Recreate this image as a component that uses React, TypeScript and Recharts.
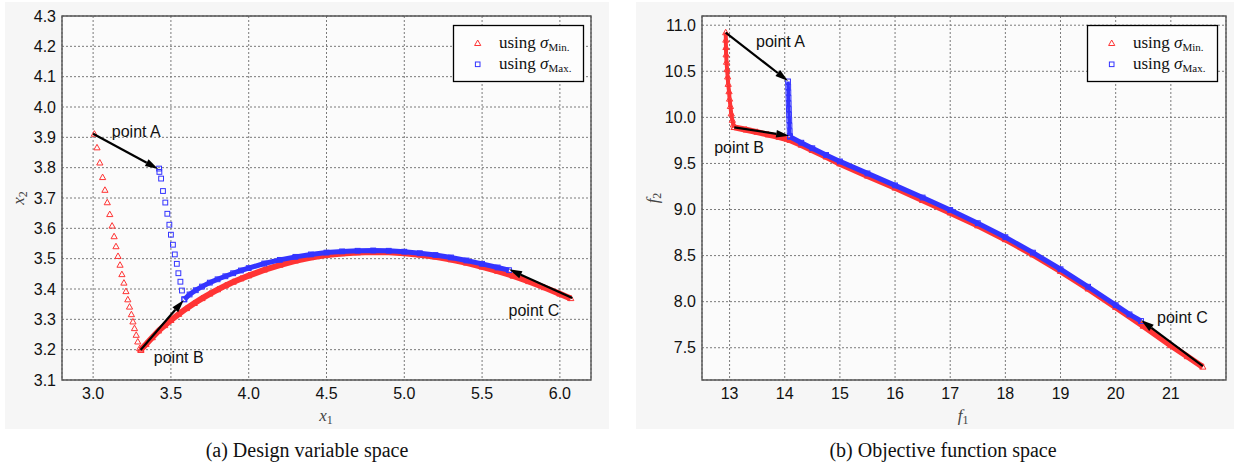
import React from 'react';
import { ScatterChart, Scatter, XAxis, YAxis, CartesianGrid, ReferenceArea } from 'recharts';

type Pt = [number, number];

const RED = '#ff3434';
const BLUE = '#3434ff';
const SANS = 'Liberation Sans, Arial, sans-serif';
const SERIF = 'Liberation Serif, Times New Roman, serif';

// (a) design variable space: [x1, x2]
const designXTicks = [3.0, 3.5, 4.0, 4.5, 5.0, 5.5, 6.0];
const designYTicks = [3.1, 3.2, 3.3, 3.4, 3.5, 3.6, 3.7, 3.8, 3.9, 4.0, 4.1, 4.2, 4.3];
const designMinDrop: Pt[] = [
  [3.008, 3.911], [3.025, 3.866], [3.043, 3.816], [3.061, 3.768], [3.076, 3.726], [3.091, 3.685],
  [3.107, 3.646], [3.122, 3.608], [3.135, 3.573], [3.147, 3.54], [3.16, 3.508], [3.173, 3.479],
  [3.185, 3.448], [3.198, 3.42], [3.211, 3.392], [3.223, 3.365], [3.234, 3.341], [3.246, 3.316],
  [3.256, 3.292], [3.266, 3.27], [3.277, 3.248], [3.287, 3.226], [3.299, 3.204], [3.307, 3.198],
];
const designMinArc: Pt[] = [
  [3.307, 3.2], [3.34, 3.218], [3.38, 3.24], [3.42, 3.262], [3.46, 3.28], [3.5, 3.297], [3.55, 3.317],
  [3.6, 3.336], [3.65, 3.353], [3.7, 3.369], [3.75, 3.384], [3.8, 3.398], [3.85, 3.411], [3.9, 3.423],
  [3.95, 3.434], [4.0, 3.444], [4.1, 3.463], [4.2, 3.479], [4.3, 3.493], [4.4, 3.504], [4.5, 3.512],
  [4.6, 3.517], [4.7, 3.52], [4.8, 3.522], [4.9, 3.521], [5.0, 3.518], [5.1, 3.513], [5.2, 3.506],
  [5.3, 3.497], [5.4, 3.486], [5.5, 3.473], [5.6, 3.459], [5.7, 3.443], [5.8, 3.425], [5.9, 3.405],
  [6.0, 3.384], [6.07, 3.369],
];
const designMaxDrop: Pt[] = [
  [3.424, 3.797], [3.426, 3.786], [3.437, 3.764], [3.449, 3.723], [3.464, 3.685], [3.477, 3.648],
  [3.49, 3.612], [3.5, 3.579], [3.513, 3.546], [3.525, 3.514], [3.538, 3.483], [3.548, 3.452],
  [3.561, 3.424], [3.571, 3.395], [3.586, 3.366],
];
const designMaxArc: Pt[] = [
  [3.586, 3.366], [3.62, 3.382], [3.66, 3.396], [3.7, 3.408], [3.75, 3.421], [3.8, 3.432], [3.85, 3.442],
  [3.9, 3.452], [3.95, 3.461], [4.0, 3.469], [4.1, 3.484], [4.2, 3.496], [4.3, 3.506], [4.4, 3.514],
  [4.5, 3.52], [4.6, 3.524], [4.7, 3.526], [4.8, 3.527], [4.9, 3.526], [5.0, 3.523], [5.1, 3.518],
  [5.2, 3.512], [5.3, 3.504], [5.4, 3.494], [5.5, 3.483], [5.6, 3.471], [5.673, 3.462],
];
const designArrows: [Pt, Pt][] = [
  [[3.0, 3.912], [3.418, 3.796]],
  [[3.305, 3.199], [3.583, 3.364]],
  [[6.08, 3.37], [5.673, 3.465]],
];
const designNotes = [
  { x: 3.12, y: 3.919, text: 'point A' },
  { x: 3.39, y: 3.175, text: 'point B' },
  { x: 5.67, y: 3.331, text: 'point C' },
];

// (b) objective function space: [f1, f2]
const objXTicks = [13, 14, 15, 16, 17, 18, 19, 20, 21];
const objYTicks = [7.5, 8.0, 8.5, 9.0, 9.5, 10.0, 10.5, 11.0];
const objMinDrop: Pt[] = [
  [12.93, 10.92], [12.932, 10.84], [12.934, 10.76], [12.937, 10.68], [12.945, 10.6], [12.955, 10.52],
  [12.965, 10.44], [12.975, 10.36], [12.99, 10.28], [13.0, 10.2], [13.015, 10.12], [13.03, 10.04],
  [13.05, 9.97], [13.07, 9.92], [13.085, 9.892],
];
const objMinArc: Pt[] = [
  [13.085, 9.892], [13.3, 9.865], [13.5, 9.84], [13.7, 9.812], [13.9, 9.785], [14.1, 9.752], [14.3, 9.7],
  [14.5, 9.643], [14.75, 9.572], [15.0, 9.497], [15.5, 9.365], [16.0, 9.235], [16.5, 9.1], [17.0, 8.965],
  [17.5, 8.825], [18.0, 8.675], [18.5, 8.51], [19.0, 8.33], [19.5, 8.14], [20.0, 7.94], [20.5, 7.735],
  [21.0, 7.525], [21.3, 7.405], [21.58, 7.292],
];
const objMaxDrop: Pt[] = [
  [14.06, 10.39], [14.063, 10.33], [14.066, 10.27], [14.069, 10.21], [14.072, 10.15], [14.075, 10.09],
  [14.078, 10.03], [14.082, 9.97], [14.086, 9.91], [14.09, 9.85], [14.095, 9.795],
];
const objMaxArc: Pt[] = [
  [14.095, 9.79], [14.3, 9.725], [14.5, 9.665], [14.75, 9.592], [15.0, 9.522], [15.5, 9.392], [16.0, 9.262],
  [16.5, 9.13], [17.0, 8.995], [17.5, 8.852], [18.0, 8.7], [18.5, 8.532], [19.0, 8.352], [19.5, 8.162],
  [20.0, 7.962], [20.25, 7.862], [20.46, 7.79],
];
const objArrows: [Pt, Pt][] = [
  [[12.93, 10.92], [14.06, 10.395]],
  [[13.085, 9.892], [14.08, 9.8]],
  [[21.58, 7.3], [20.46, 7.8]],
];
const objNotes = [
  { x: 13.48, y: 10.82, text: 'point A' },
  { x: 12.72, y: 9.675, text: 'point B' },
  { x: 20.75, y: 7.83, text: 'point C' },
];

const toXY = (pts: Pt[]) => pts.map(([x, y]) => ({ x, y }));

function Tri(props: any) {
  const { cx, cy } = props;
  if (cx == null || cy == null) return <g />;
  return (
    <polygon
      points={`${cx},${cy - 3.3} ${cx - 3.1},${cy + 2.2} ${cx + 3.1},${cy + 2.2}`}
      fill="none"
      stroke={RED}
      strokeWidth={1}
    />
  );
}

function Sq(props: any) {
  const { cx, cy } = props;
  if (cx == null || cy == null) return <g />;
  return <rect x={cx - 2.4} y={cy - 2.4} width={4.8} height={4.8} fill="none" stroke={BLUE} strokeWidth={1} />;
}

const Blank = () => <g />;

function Note(props: any) {
  const { cx, cy, payload } = props;
  if (cx == null || cy == null) return <g />;
  return (
    <text x={cx} y={cy} dy="0.35em" fontFamily={SANS} fontSize={16} fill="#111">
      {payload.text}
    </text>
  );
}

// arrow drawn as the "line" of a two-point scatter, so it sits on top of the data
function ArrowLine(props: any) {
  const pts = props.points || [];
  if (pts.length < 2) return <g />;
  const { x: x1, y: y1 } = pts[0];
  const { x: x2, y: y2 } = pts[1];
  const a = Math.atan2(y2 - y1, x2 - x1);
  const len = 13;
  const half = 3.8;
  const bx = x2 - len * Math.cos(a);
  const by = y2 - len * Math.sin(a);
  const nx = -Math.sin(a) * half;
  const ny = Math.cos(a) * half;
  return (
    <g>
      <line x1={x1} y1={y1} x2={bx} y2={by} stroke="#000" strokeWidth={2.2} />
      <polygon points={`${x2},${y2} ${bx + nx},${by + ny} ${bx - nx},${by - ny}`} fill="#000" />
    </g>
  );
}

const tickStyle = { fontFamily: SANS, fontSize: 16, fill: '#111' };

function Panel(p: any) {
  return (
    <div style={{ position: 'absolute', left: p.left, top: 2, width: p.width, height: 427, background: '#f6f6f6' }}>
      <ScatterChart width={p.width} height={427} margin={{ top: 14, right: p.marginRight, bottom: 0, left: 0 }}>
        <CartesianGrid fill="#fbfbfb" stroke="#7a7a7a" strokeDasharray="2 2" />
        <XAxis
          type="number"
          dataKey="x"
          domain={p.xDomain}
          ticks={p.xTicks}
          interval={0}
          allowDataOverflow
          axisLine={false}
          tickLine={false}
          height={49}
          tick={tickStyle}
          tickFormatter={(v: number) => v.toFixed(p.xDigits)}
        />
        <YAxis
          type="number"
          dataKey="y"
          domain={p.yDomain}
          ticks={p.yTicks}
          interval={0}
          allowDataOverflow
          axisLine={false}
          tickLine={false}
          tickSize={4}
          width={p.yAxisWidth}
          tick={tickStyle}
          tickFormatter={(v: number) => v.toFixed(1)}
        />
        <ReferenceArea
          x1={p.xDomain[0]}
          x2={p.xDomain[1]}
          y1={p.yDomain[0]}
          y2={p.yDomain[1]}
          fill="none"
          stroke="#555"
          strokeWidth={1.4}
          ifOverflow="visible"
        />
        <Scatter
          data={toXY(p.minDrop)}
          shape={Tri}
          line={p.dropLine ? { stroke: RED, strokeWidth: 4 } : false}
          isAnimationActive={false}
        />
        <Scatter data={toXY(p.minArc)} shape={Tri} line={{ stroke: RED, strokeWidth: 6 }} isAnimationActive={false} />
        <Scatter
          data={toXY(p.maxDrop)}
          shape={Sq}
          line={p.dropLine ? { stroke: BLUE, strokeWidth: 3.5 } : false}
          isAnimationActive={false}
        />
        <Scatter data={toXY(p.maxArc)} shape={Sq} line={{ stroke: BLUE, strokeWidth: 5 }} isAnimationActive={false} />
        {p.arrows.map((seg: [Pt, Pt], i: number) => (
          <Scatter key={i} data={toXY(seg)} shape={Blank} line={ArrowLine} isAnimationActive={false} />
        ))}
        <Scatter data={p.notes} shape={Note} isAnimationActive={false} />
      </ScatterChart>
    </div>
  );
}

function LegendBox({ x }: { x: number }) {
  return (
    <g transform={`translate(${x},25)`}>
      <rect x={0.5} y={0.5} width={130} height={56} fill="#fdfdfd" stroke="#000" strokeWidth={1.3} />
      <polygon points="24.7,15 21.6,20.5 27.8,20.5" fill="none" stroke={RED} strokeWidth={1} />
      <rect x={22.4} y={37} width={4.6} height={4.6} fill="none" stroke={BLUE} strokeWidth={1} />
      <text x={46} y={23} fontFamily={SERIF} fontSize={17} fill="#111">
        using <tspan fontStyle="italic">σ</tspan>
        <tspan fontSize={11} dy={3}>Min.</tspan>
      </text>
      <text x={46} y={44} fontFamily={SERIF} fontSize={17} fill="#111">
        using <tspan fontStyle="italic">σ</tspan>
        <tspan fontSize={11} dy={3}>Max.</tspan>
      </text>
    </g>
  );
}

function AxisName({ x, y, name, sub, rotate }: any) {
  return (
    <text
      transform={`translate(${x},${y})${rotate ? ' rotate(-90)' : ''}`}
      textAnchor="middle"
      fontFamily={SERIF}
      fontSize={17}
      fill="#444"
    >
      <tspan fontStyle="italic">{name}</tspan>
      <tspan fontSize={12} dy={3}>
        {sub}
      </tspan>
    </text>
  );
}

export default function App() {
  return (
    <div style={{ position: 'absolute', left: 0, top: 0, width: 1234, height: 466, background: '#fff' }}>
      <Panel
        left={5}
        width={604}
        yAxisWidth={57}
        marginRight={18}
        xDomain={[2.8, 6.2]}
        yDomain={[3.1, 4.3]}
        xTicks={designXTicks}
        yTicks={designYTicks}
        xDigits={1}
        minDrop={designMinDrop}
        minArc={designMinArc}
        maxDrop={designMaxDrop}
        maxArc={designMaxArc}
        dropLine={false}
        arrows={designArrows}
        notes={designNotes}
      />
      <Panel
        left={636}
        width={598}
        yAxisWidth={66}
        marginRight={8}
        xDomain={[12.5, 22]}
        yDomain={[7.15, 11.1]}
        xTicks={objXTicks}
        yTicks={objYTicks}
        xDigits={0}
        minDrop={objMinDrop}
        minArc={objMinArc}
        maxDrop={objMaxDrop}
        maxArc={objMaxArc}
        dropLine={true}
        arrows={objArrows}
        notes={objNotes}
      />
      <svg width={1234} height={466} style={{ position: 'absolute', left: 0, top: 0, pointerEvents: 'none' }}>
        <LegendBox x={453} />
        <LegendBox x={1087} />
        <AxisName x={326} y={421} name="x" sub="1" />
        <AxisName x={24} y={198} name="x" sub="2" rotate />
        <AxisName x={963} y={421} name="f" sub="1" />
        <AxisName x={658} y={198} name="f" sub="2" rotate />
        <text x={307} y={457} textAnchor="middle" fontFamily={SERIF} fontSize={20} fill="#111">
          (a) Design variable space
        </text>
        <text x={943} y={457} textAnchor="middle" fontFamily={SERIF} fontSize={20} fill="#111">
          (b) Objective function space
        </text>
      </svg>
    </div>
  );
}
